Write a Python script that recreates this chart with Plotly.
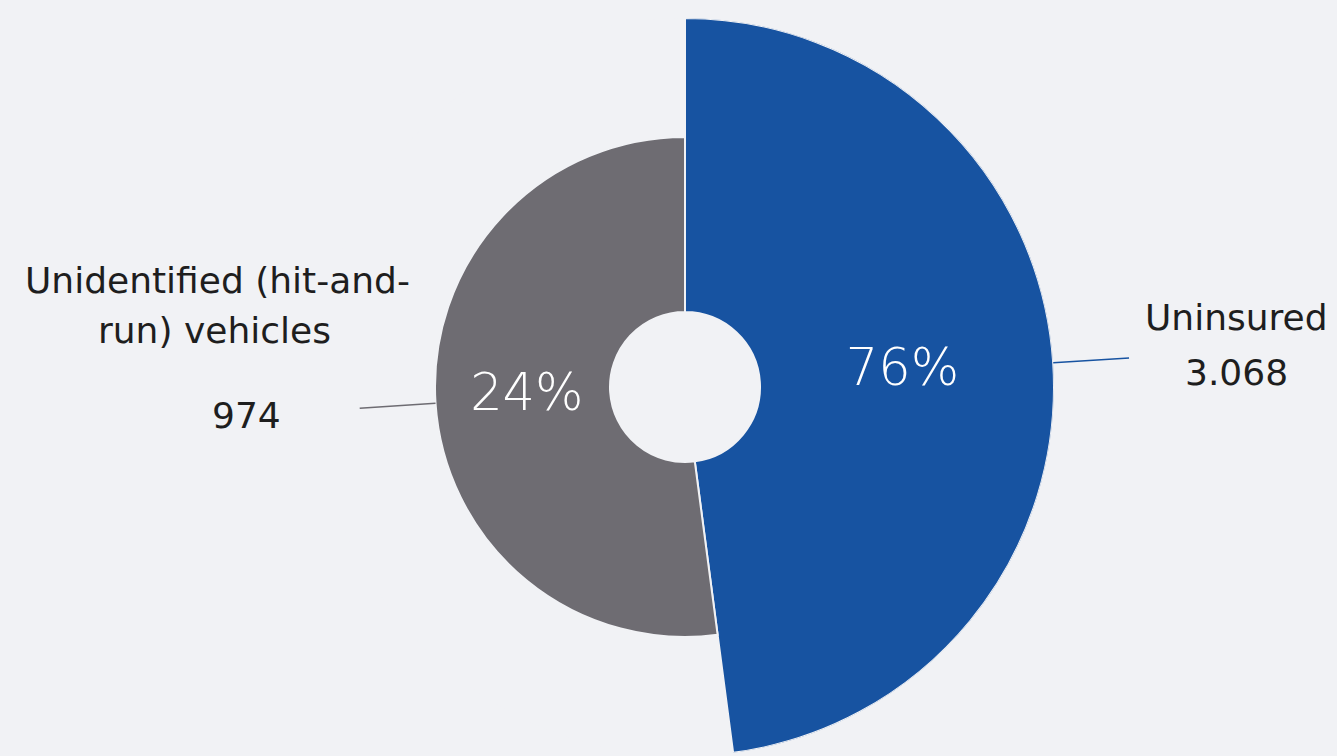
import math
import plotly.graph_objects as go

# Claims by type of vehicle at fault
categories = ["Uninsured", "Unidentified (hit-and-run) vehicles"]
claims = [3068, 974]
value_labels = ["3.068", "974"]

# Angular share (degrees) and outer radius of each sector
sector_span = [172.5, 187.5]
sector_radius = [369, 250]
inner_radius = 75

colors = ["#1753a1", "#6e6c72"]
bg = "#f1f2f5"
font_family = "DejaVu Sans"

total = sum(claims)
percents = [round(100 * v / total) for v in claims]

# sector centre angles, clockwise from 12 o'clock
mids = []
start = 0.0
for span in sector_span:
    mids.append(start + span / 2)
    start += span

W, H = 1337, 756
cx, cy = 685, 387
R = 369

fig = go.Figure()

fig.add_trace(go.Barpolar(
    r=[r - inner_radius for r in sector_radius],
    base=[inner_radius] * len(claims),
    theta=mids,
    width=sector_span,
    marker=dict(color=colors, line=dict(color=bg, width=2)),
    hovertext=categories,
    hoverinfo="text",
))

# percentage labels inside the sectors
fig.add_trace(go.Scatterpolar(
    r=[(inner_radius + r) / 2 - 4 for r in sector_radius],
    theta=mids,
    mode="text",
    text=[f"{p}%" for p in percents],
    textfont=dict(family=font_family, size=51, color="white", weight=300),
    hoverinfo="skip",
))

fig.update_layout(
    width=W, height=H,
    margin=dict(l=0, r=0, t=0, b=0),
    paper_bgcolor=bg,
    plot_bgcolor=bg,
    showlegend=False,
    polar=dict(
        domain=dict(x=[(cx - R) / W, (cx + R) / W], y=[(H - cy - R) / H, (H - cy + R) / H]),
        bgcolor=bg,
        radialaxis=dict(range=[0, R], visible=False),
        angularaxis=dict(rotation=90, direction="clockwise", visible=False),
        bargap=0,
    ),
)

# leader lines running outward along each sector's centre angle
# (the polar radius is one pixel per unit, so positions follow from the geometry)
leader_len = 76
for mid, rad, col in zip(mids, sector_radius, colors):
    a = math.radians(mid)
    x0 = cx + rad * math.sin(a)
    y0 = cy - rad * math.cos(a)
    x1 = cx + (rad + leader_len) * math.sin(a)
    y1 = cy - (rad + leader_len) * math.cos(a)
    fig.add_shape(type="line", xref="paper", yref="paper",
                  x0=x0 / W, y0=1 - y0 / H, x1=x1 / W, y1=1 - y1 / H,
                  line=dict(color=col, width=1.5))

label_font = dict(family=font_family, size=36, color="#1e1e1e")


def label(x, y, text):
    fig.add_annotation(x=x / W, y=1 - y / H, xref="paper", yref="paper",
                       xanchor="center", yanchor="middle",
                       text=text, showarrow=False, font=label_font)


label(1236, 317, categories[0])
label(1236, 372, value_labels[0])
label(217, 281, "Unidentified (hit-and-")
label(214, 330, "run) vehicles")
label(246, 415, value_labels[1])

fig.write_html("out.html")
